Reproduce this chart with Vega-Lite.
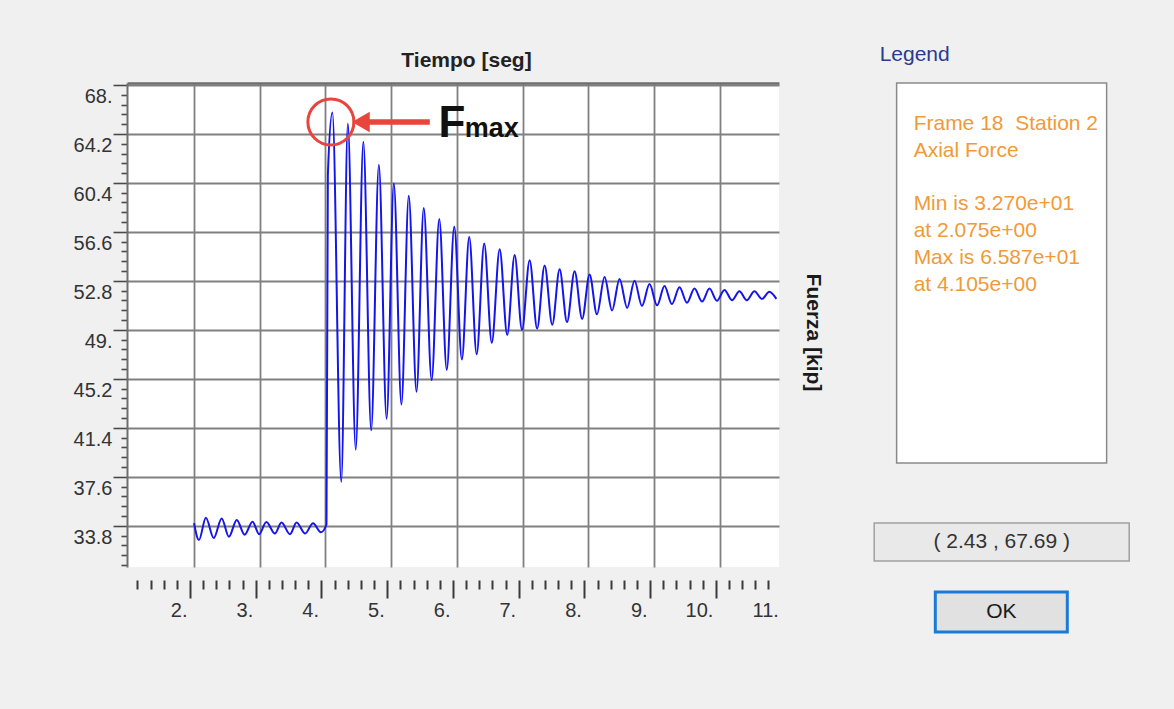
{
  "$schema": "https://vega.github.io/schema/vega-lite/v6.json",
  "background": "#f0f0f0",
  "padding": {"left": 73, "top": 43, "right": 44, "bottom": 77},
  "config": {"font": "Liberation Sans", "view": {"stroke": null}},
  "datasets": {
    "fuerza": [
      {"t": 2.0, "f": 34.0}, {"t": 2.075, "f": 32.7}, {"t": 2.18, "f": 34.42}, {"t": 2.3, "f": 32.85},
      {"t": 2.42, "f": 34.37}, {"t": 2.53, "f": 32.95}, {"t": 2.65, "f": 34.25}, {"t": 2.77, "f": 33.1},
      {"t": 2.89, "f": 34.12}, {"t": 2.99, "f": 33.15}, {"t": 3.1, "f": 34.1}, {"t": 3.23, "f": 33.2},
      {"t": 3.33, "f": 34.05}, {"t": 3.46, "f": 33.15}, {"t": 3.56, "f": 34.05}, {"t": 3.69, "f": 33.2},
      {"t": 3.81, "f": 34.0}, {"t": 3.93, "f": 33.3}, {"t": 4.015, "f": 33.9}, {"t": 4.036, "f": 61.0},
      {"t": 4.105, "f": 65.87},
      {"t": 4.24, "f": 37.2}, {"t": 4.34, "f": 65.0}, {"t": 4.46, "f": 39.7}, {"t": 4.576, "f": 63.6},
      {"t": 4.695, "f": 41.2}, {"t": 4.812, "f": 61.8}, {"t": 4.93, "f": 42.1}, {"t": 5.04, "f": 60.35},
      {"t": 5.155, "f": 43.2}, {"t": 5.267, "f": 59.4}, {"t": 5.385, "f": 44.2}, {"t": 5.495, "f": 58.45},
      {"t": 5.615, "f": 45.1}, {"t": 5.731, "f": 57.6}, {"t": 5.845, "f": 45.9}, {"t": 5.959, "f": 57.0},
      {"t": 6.075, "f": 46.7}, {"t": 6.187, "f": 56.2}, {"t": 6.3, "f": 47.1}, {"t": 6.415, "f": 55.7},
      {"t": 6.53, "f": 48.0}, {"t": 6.65, "f": 55.25}, {"t": 6.765, "f": 48.6}, {"t": 6.878, "f": 54.8},
      {"t": 6.99, "f": 49.0}, {"t": 7.106, "f": 54.4}, {"t": 7.22, "f": 49.1}, {"t": 7.334, "f": 54.0},
      {"t": 7.45, "f": 49.4}, {"t": 7.562, "f": 53.7}, {"t": 7.675, "f": 49.6}, {"t": 7.79, "f": 53.55},
      {"t": 7.905, "f": 49.85}, {"t": 8.018, "f": 53.3}, {"t": 8.13, "f": 50.2}, {"t": 8.246, "f": 53.1},
      {"t": 8.36, "f": 50.5}, {"t": 8.474, "f": 52.95}, {"t": 8.59, "f": 50.7}, {"t": 8.702, "f": 52.8},
      {"t": 8.815, "f": 50.85}, {"t": 8.93, "f": 52.55}, {"t": 9.045, "f": 50.9}, {"t": 9.158, "f": 52.4},
      {"t": 9.27, "f": 51.0}, {"t": 9.386, "f": 52.3}, {"t": 9.5, "f": 51.1}, {"t": 9.614, "f": 52.2},
      {"t": 9.73, "f": 51.2}, {"t": 9.842, "f": 52.2}, {"t": 9.955, "f": 51.25}, {"t": 10.07, "f": 52.1},
      {"t": 10.185, "f": 51.3}, {"t": 10.298, "f": 52.0}, {"t": 10.41, "f": 51.3}, {"t": 10.526, "f": 52.0},
      {"t": 10.64, "f": 51.4}, {"t": 10.754, "f": 51.95}, {"t": 10.86, "f": 51.4}
    ]
  },
  "spacing": 50,
  "hconcat": [
    {
      "width": 652,
      "height": 484,
      "view": {"fill": "#ffffff", "stroke": null},
      "resolve": {"axis": {"x": "independent", "y": "independent"}},
      "layer": [
        {
          "data": {"name": "fuerza"},
          "mark": {"type": "line", "interpolate": "monotone", "color": "#1414ec", "strokeWidth": 2},
          "encoding": {
            "x": {
              "field": "t", "type": "quantitative",
              "scale": {"domain": [0.98, 10.9], "nice": false, "zero": false},
              "axis": {
                "orient": "top", "values": [2, 3, 4, 5, 6, 7, 8, 9, 10],
                "grid": true, "gridColor": "#808080", "gridWidth": 1.8,
                "ticks": false, "labels": false,
                "domain": true, "domainColor": "#6e6e6e", "domainWidth": 2.5,
                "title": "Tiempo [seg]", "titleFontSize": 21, "titleFontWeight": "bold",
                "titleColor": "#222222", "titlePadding": 13, "titleX": 339
              }
            },
            "y": {
              "field": "f", "type": "quantitative",
              "scale": {"domain": [30.6, 68.15], "nice": false, "zero": false},
              "axis": {
                "orient": "left",
                "values": [68, 67.24, 66.48, 65.72, 64.96, 64.2, 63.44, 62.68, 61.92, 61.16, 60.4, 59.64, 58.88, 58.12, 57.36, 56.6, 55.84, 55.08, 54.32, 53.56, 52.8, 52.04, 51.28, 50.52, 49.76, 49, 48.24, 47.48, 46.72, 45.96, 45.2, 44.44, 43.68, 42.92, 42.16, 41.4, 40.64, 39.88, 39.12, 38.36, 37.6, 36.84, 36.08, 35.32, 34.56, 33.8, 33.04, 32.28, 31.52, 30.76],
                "grid": true, "gridColor": "#808080", "gridWidth": 1.8,
                "gridOpacity": {"condition": {"test": "indexof([68,64.2,60.4,56.6,52.8,49,45.2,41.4,37.6,33.8], datum.value) >= 0", "value": 1}, "value": 0},
                "domain": true, "domainColor": "#6e6e6e", "domainWidth": 2,
                "tickColor": "#4a4a4a", "tickWidth": 1.6,
                "tickSize": {"condition": {"test": "indexof([68,64.2,60.4,56.6,52.8,49,45.2,41.4,37.6,33.8], datum.value) >= 0", "value": 14}, "value": 6},
                "labelExpr": "indexof([68,64.2,60.4,56.6,52.8,49,45.2,41.4,37.6,33.8], datum.value) >= 0 ? (datum.value % 1 == 0 ? datum.value + '.' : datum.value + '') : ''",
                "labelFontSize": 20, "labelColor": "#333333", "labelBaseline": "top",
                "labelOffset": 2, "labelPadding": 1,
                "labelOverlap": false, "labelFlush": false, "labelBound": false,
                "title": null
              }
            }
          }
        },
        {
          "data": {"values": [{"t": 4.082, "f": 65.13}]},
          "mark": {"type": "point", "shape": "circle", "filled": false, "stroke": "#e8453c", "strokeWidth": 3, "size": 2116, "opacity": 1},
          "encoding": {
            "x": {
              "field": "t", "type": "quantitative",
              "scale": {"domain": [0.98, 10.9], "nice": false, "zero": false},
              "axis": {
                "orient": "bottom", "offset": 13,
                "values": [1.2, 1.4, 1.6, 1.8, 2, 2.2, 2.4, 2.6, 2.8, 3, 3.2, 3.4, 3.6, 3.8, 4, 4.2, 4.4, 4.6, 4.8, 5, 5.2, 5.4, 5.6, 5.8, 6, 6.2, 6.4, 6.6, 6.8, 7, 7.2, 7.4, 7.6, 7.8, 8, 8.2, 8.4, 8.6, 8.8, 9, 9.2, 9.4, 9.6, 9.8, 10, 10.2, 10.4, 10.6, 10.8],
                "grid": false, "domain": false,
                "tickColor": "#3a3a3a", "tickWidth": 2, "tickOffset": -4,
                "tickSize": {"condition": {"test": "indexof([2,3,4,5,6,7,8,9,10], datum.value) >= 0", "value": 18}, "value": 9},
                "labelExpr": "indexof([2,3,4,5,6,7,8,9,10], datum.value) >= 0 ? datum.value + '.' : (datum.value == 10.8 ? '11.' : '')",
                "labelAlign": "right",
                "labelOffset": {"condition": {"test": "datum.value == 10.8", "value": 10}, "value": -3},
                "labelPadding": {"condition": {"test": "datum.value == 10.8", "value": 11}, "value": 2},
                "labelFontSize": 20, "labelColor": "#333333",
                "labelOverlap": false, "labelFlush": false, "labelBound": false,
                "title": null
              }
            },
            "y": {
              "field": "f", "type": "quantitative",
              "scale": {"domain": [30.6, 68.15], "nice": false, "zero": false},
              "axis": {
                "orient": "right", "title": "Fuerza [kip]",
                "domain": false, "ticks": false, "labels": false, "grid": false,
                "titleFontSize": 21, "titleFontWeight": "bold", "titleColor": "#1a1a1a",
                "titlePadding": 23, "titleY": 249
              }
            }
          }
        },
        {
          "data": {"values": [{"t": 4.55, "t2": 5.587, "f": 65.13}]},
          "mark": {"type": "rule", "color": "#e8453c", "strokeWidth": 5.5},
          "encoding": {
            "x": {"field": "t", "type": "quantitative", "scale": {"domain": [0.98, 10.9], "nice": false, "zero": false}, "axis": null},
            "x2": {"field": "t2"},
            "y": {"field": "f", "type": "quantitative", "scale": {"domain": [30.6, 68.15], "nice": false, "zero": false}, "axis": null}
          }
        },
        {
          "data": {"values": [{"t": 4.538, "f": 65.13}]},
          "mark": {"type": "point", "shape": "triangle-left", "filled": true, "color": "#e8453c", "size": 420, "opacity": 1},
          "encoding": {
            "x": {"field": "t", "type": "quantitative", "scale": {"domain": [0.98, 10.9], "nice": false, "zero": false}, "axis": null},
            "y": {"field": "f", "type": "quantitative", "scale": {"domain": [30.6, 68.15], "nice": false, "zero": false}, "axis": null}
          }
        },
        {
          "data": {"values": [{"t": 5.72, "f": 63.97, "txt": "F"}]},
          "mark": {"type": "text", "align": "left", "baseline": "alphabetic", "fontSize": 44, "fontWeight": "bold", "color": "#111111"},
          "encoding": {
            "x": {"field": "t", "type": "quantitative", "scale": {"domain": [0.98, 10.9], "nice": false, "zero": false}, "axis": null},
            "y": {"field": "f", "type": "quantitative", "scale": {"domain": [30.6, 68.15], "nice": false, "zero": false}, "axis": null},
            "text": {"field": "txt"}
          }
        },
        {
          "data": {"values": [{"t": 6.12, "f": 63.97, "txt": "max"}]},
          "mark": {"type": "text", "align": "left", "baseline": "alphabetic", "fontSize": 27, "fontWeight": "bold", "color": "#111111"},
          "encoding": {
            "x": {"field": "t", "type": "quantitative", "scale": {"domain": [0.98, 10.9], "nice": false, "zero": false}, "axis": null},
            "y": {"field": "f", "type": "quantitative", "scale": {"domain": [30.6, 68.15], "nice": false, "zero": false}, "axis": null},
            "text": {"field": "txt"}
          }
        }
      ]
    },
    {
      "center": true,
      "spacing": 58,
      "vconcat": [
        {
          "width": 210,
          "height": 380,
          "view": {"fill": "#ffffff", "stroke": "#8a8a8a", "strokeWidth": 1.5},
          "title": {"text": "Legend", "anchor": "start", "fontSize": 21, "fontWeight": "normal", "color": "#2a3a92", "dx": -17, "offset": 18},
          "data": {"values": [
            {"renglon": 0, "texto": "Frame 18\u00a0 Station 2"},
            {"renglon": 1, "texto": "Axial Force"},
            {"renglon": 3, "texto": "Min is 3.270e+01"},
            {"renglon": 4, "texto": "at 2.075e+00"},
            {"renglon": 5, "texto": "Max is 6.587e+01"},
            {"renglon": 6, "texto": "at 4.105e+00"}
          ]},
          "mark": {"type": "text", "align": "left", "baseline": "middle", "fontSize": 21, "color": "#f09a38", "dx": -88},
          "encoding": {
            "y": {"field": "renglon", "type": "quantitative", "scale": {"domain": [-1.528, 12.635], "reverse": true, "nice": false, "zero": false}, "axis": null},
            "text": {"field": "texto"}
          }
        },
        {
          "center": true,
          "spacing": 28,
          "vconcat": [
            {
              "width": 255,
              "height": 38,
              "view": {"fill": "#e9e9e9", "stroke": "#a0a0a0", "strokeWidth": 1.5},
              "data": {"values": [{"coordenadas": "( 2.43 , 67.69 )"}]},
              "mark": {"type": "text", "fontSize": 21, "color": "#333333"},
              "encoding": {"text": {"field": "coordenadas"}}
            },
            {
              "width": 132,
              "height": 40,
              "view": {"fill": "#e1e1e1", "stroke": "#1b7ad6", "strokeWidth": 3},
              "data": {"values": [{"boton": "OK"}]},
              "mark": {"type": "text", "fontSize": 21, "color": "#1a1a1a"},
              "encoding": {"text": {"field": "boton"}}
            }
          ]
        }
      ]
    }
  ]
}
